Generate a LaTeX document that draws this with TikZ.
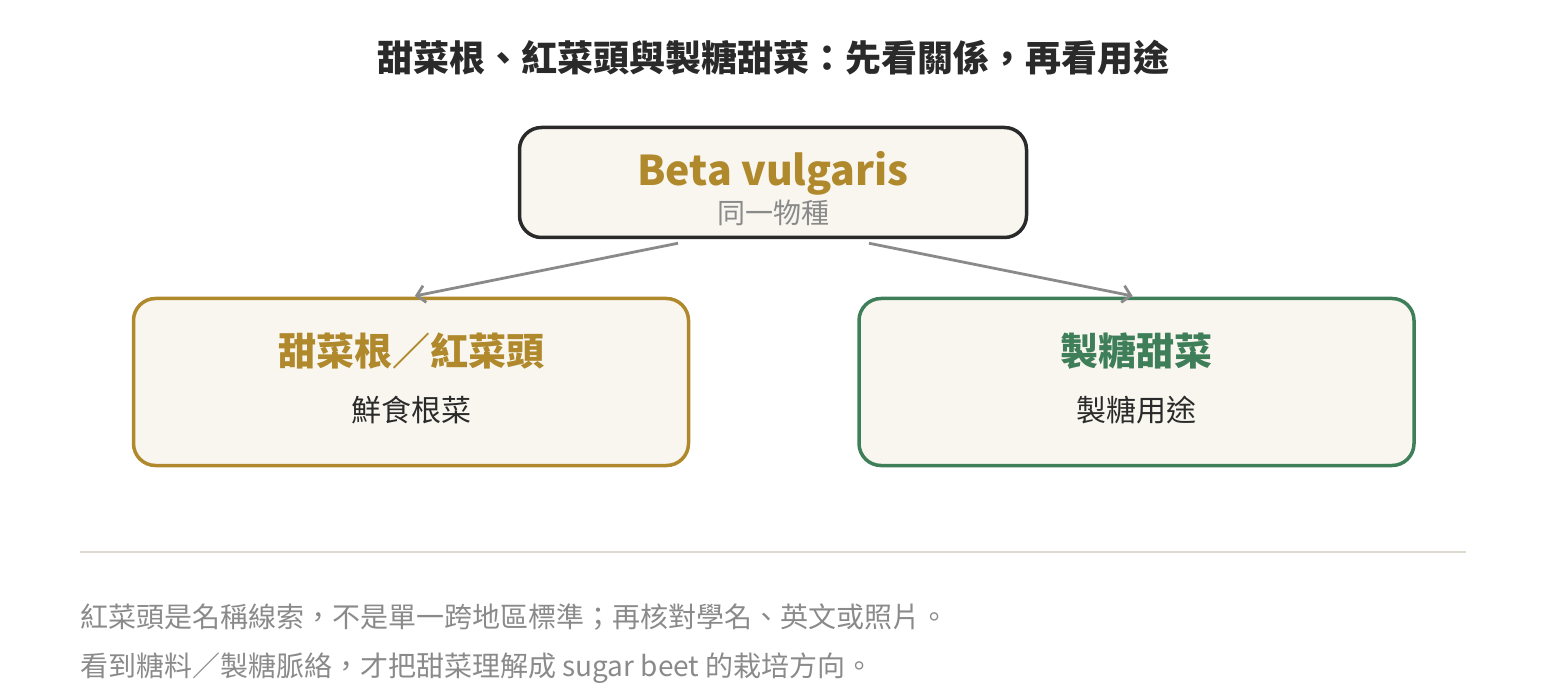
\documentclass[tikz,border=0pt]{standalone}
\usepackage{fontspec}
\setmainfont{Noto Sans CJK TC}
\usetikzlibrary{
    arrows.meta,
    calc,
    positioning
}
\definecolor{ink}{HTML}{2A2A2A}
\definecolor{beetgold}{HTML}{B0892D}
\definecolor{beetgreen}{HTML}{3E7F5A}
\definecolor{paper}{HTML}{F9F6EF}
\definecolor{mute}{HTML}{8A8A8A}
\definecolor{rule}{HTML}{DEDAD0}
\tikzset{
    box/.style={draw, rounded corners=22pt, line width=3.5pt, fill=paper, inner sep=0pt},
    head/.style={inner sep=0pt, font=\fontsize{38}{40}\selectfont\bfseries},
    sub/.style={inner sep=0pt, font=\fontsize{30}{32}\selectfont},
    note/.style={inner sep=0pt, anchor=west, text=mute, font=\fontsize{28}{30}\selectfont},
    link/.style={draw=mute, line width=2.8pt, -{Straight Barb[length=8pt,width=17pt]}, shorten >=4pt}
}

\begin{document}
\begin{tikzpicture}[x=1pt, y=-1pt]
    \useasboundingbox (0, 0) rectangle (1546, 700);
    \node[head, text=ink, font=\fontsize{36}{38}\selectfont\bfseries] (title) at (773, 58) {甜菜根、紅菜頭與製糖甜菜：先看關係，再看用途};

    % species and the two uses
    \node[box, draw=ink, minimum width=507pt, minimum height=110pt] (species) at (773, 182.5) {};
    \node[inner sep=0pt, anchor=base, text=beetgold, font=\fontsize{41}{44}\selectfont\bfseries] (latin) at ($(species)+(0,3.5)$) {Beta vulgaris};
    \node[sub, text=mute, font=\fontsize{28}{30}\selectfont] (same) at ($(species)+(0,30)$) {同一物種};

    \node[box, draw=beetgold, minimum width=555pt, minimum height=167pt] (table) at (411, 382) {};
    \node[head, text=beetgold] (tablename) at ($(table)+(0,-31)$) {甜菜根／紅菜頭};
    \node[sub, text=ink] (tableuse) at ($(table)+(0,28)$) {鮮食根菜};

    \node[box, draw=beetgreen, minimum width=555pt, minimum height=167pt] (sugar) at (1136.5, 382) {};
    \node[head, text=beetgreen] (sugarname) at ($(sugar)+(0,-31)$) {製糖甜菜};
    \node[sub, text=ink] (sugaruse) at ($(sugar)+(0,28)$) {製糖用途};

    \coordinate (fromL) at ($(species.south)+(-95,4)$);
    \coordinate (fromR) at ($(species.south)+(96,4)$);
    \draw[link] (fromL) -- (table.north);
    \draw[link] (fromR) -- (sugar.north);

    % notes under the rule
    \coordinate (ruleL) at (80, 552);
    \coordinate (ruleR) at (1466, 552);
    \draw[rule, line width=2pt] (ruleL) -- (ruleR);
    \node[note] (note1) at (80, 617) {紅菜頭是名稱線索，不是單一跨地區標準；再核對學名、英文或照片。};
    \node[note] (note2) at (80, 668) {看到糖料／製糖脈絡，才把甜菜理解成 sugar beet 的栽培方向。};
\end{tikzpicture}
\end{document}
